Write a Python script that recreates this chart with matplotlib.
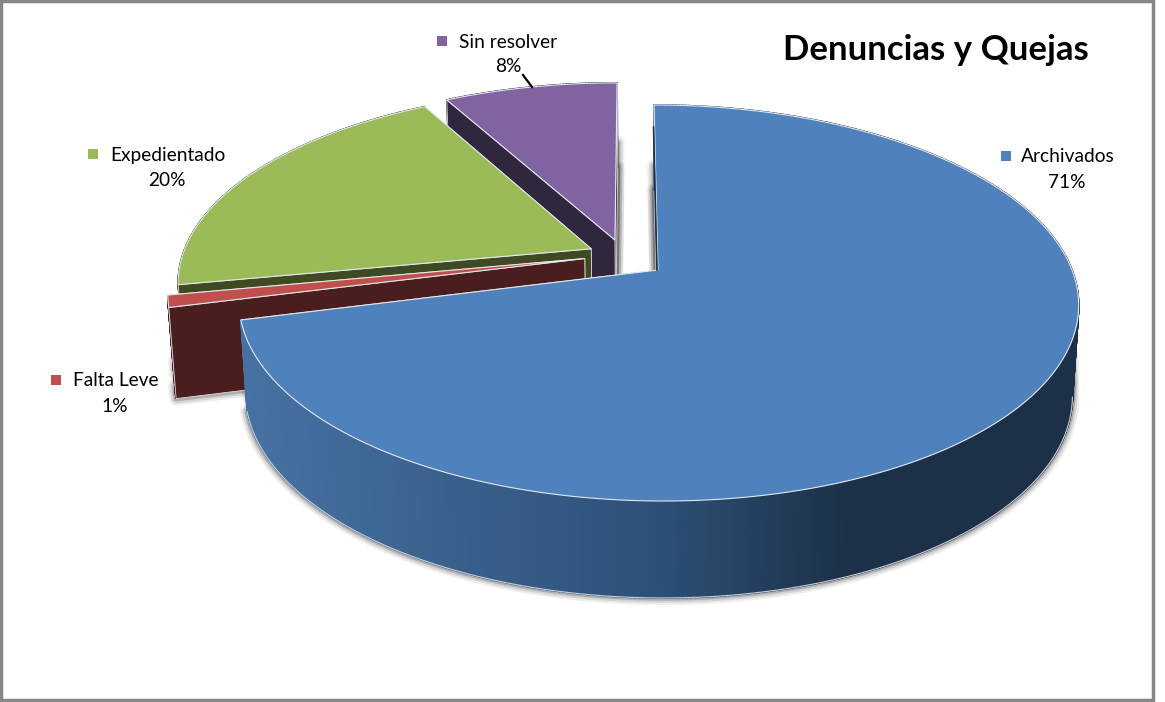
import numpy as np
import matplotlib
matplotlib.use('Agg')
import matplotlib.pyplot as plt
from matplotlib.patches import Polygon, Rectangle

labels = ['Archivados', 'Falta Leve', 'Expedientado', 'Sin resolver']
values = [71, 1, 20, 8]
pct_text = ['71%', '1%', '20%', '8%']
top_colors = ['#4f81bd', '#c0504d', '#9bbb59', '#8064a2']
side_colors = ['#1c3148', '#4a1e1e', '#3f4a22', '#30263e']

# how far each slice is pulled out of the pie (in pie radii)
explode = [(0, 0), (-0.178, 0.06), (-0.163, 0.112), (-0.105, 0.16)]
# text layout: key x, key y, text x, percent x, percent y
label_pos = [(1006, 156, 1021, 1067, 182),
             (56, 380, 73, 115, 407),
             (93, 154, 110, 167, 180),
             (442, 41, 459, 508, 67)]

# camera
cx, cy = 658, 270
A, B, k = 414, 192.5, 0.1667
lean = 0.024
depth, sx, sy = 90, 0.985, 1.03


def project(u, v):
    w = 1 + k * v
    y = cy - B * v / w
    return cx + A * u / w - lean * (cy - y), y


def lower(x, y):
    return cx + sx * (x - cx), cy + depth + sy * (y - cy)


def slice_outline(a0, a1, off):
    t = np.radians(np.linspace(a0, a1, max(int(a1 - a0) * 2, 8)))
    u = np.sin(t) + off[0]
    v = np.cos(t) + off[1]
    rx, ry = project(u, v)
    ax0, ay0 = project(off[0], off[1])
    return ax0, ay0, rx, ry


def side_shade(x):
    # blue wall goes darker to the right
    stops = [240, 660, 850]
    r = np.interp(x, stops, [0x46, 0x2d, 0x1c])
    g = np.interp(x, stops, [0x72, 0x50, 0x31])
    b = np.interp(x, stops, [0xa3, 0x78, 0x48])
    return (r / 255, g / 255, b / 255)


fig = plt.figure(figsize=(11.65, 7.02), dpi=100, facecolor='white')
ax = fig.add_axes([0, 0, 1, 1])
ax.set_xlim(0, 1165)
ax.set_ylim(702, 0)
ax.axis('off')
plt.rcParams['font.family'] = ['Lato', 'DejaVu Sans']

ax.add_patch(Rectangle((1, 1), 1152, 699, fc='white', ec='#868686', lw=2.5, zorder=0))

angles = np.cumsum([0] + values) / sum(values) * 360

# soft shadows first
for i in range(len(values)):
    ax0, ay0, rx, ry = slice_outline(angles[i], angles[i + 1], explode[i])
    bx, by = lower(np.r_[ax0, rx], np.r_[ay0, ry])
    for lift in [0, 24]:
        for lw, al in [(10, 0.07), (7, 0.10), (4, 0.18)]:
            ax.add_patch(Polygon(np.c_[bx, by - lift], closed=True, fc='none', ec='black',
                                 lw=lw, alpha=al, joinstyle='round', zorder=1))

# back slices first, blue one last
z = 2
for i in [3, 2, 1, 0]:
    ax0, ay0, rx, ry = slice_outline(angles[i], angles[i + 1], explode[i])
    bax, bay = lower(ax0, ay0)
    brx, bry = lower(rx, ry)

    # on the blue slice the outer wall is in front of the cut walls, on the others behind
    wall_z = z + 3 if i == 0 else z
    cut_z = z if i == 0 else z + 1

    # outer wall
    for j in range(len(rx) - 1):
        col = side_colors[i]
        if i == 0:
            col = side_shade(rx[j])
        ax.add_patch(Polygon([(rx[j], ry[j]), (rx[j + 1], ry[j + 1]), (brx[j + 1], bry[j + 1]), (brx[j], bry[j])],
                             closed=True, fc=col, ec=col, lw=1.2, zorder=wall_z))
    if i == 0:
        front = np.arange(len(brx)) >= np.argmax(brx)
        ax.plot(brx[front], bry[front], color='#c8ccd2', lw=0.8, zorder=wall_z + 1)

    # walls of the cut sides
    for ex, ey, bex, bey in [(rx[-1], ry[-1], brx[-1], bry[-1]), (rx[0], ry[0], brx[0], bry[0])]:
        col = side_colors[i] if i > 0 else side_shade(ex)
        ax.add_patch(Polygon([(ax0, ay0), (ex, ey), (bex, bey), (bax, bay)], closed=True,
                             fc=col, ec='#d9d9d9', lw=0.6, zorder=cut_z))
        cut_z += 1
    z += 6

    # top face
    ax.add_patch(Polygon(np.c_[np.r_[ax0, rx], np.r_[ay0, ry]], closed=True, fc=top_colors[i],
                         ec='#e4e8ee', lw=0.8, joinstyle='miter', zorder=z))
    z += 1

    if i == 0:
        # thin dark sliver of the wall next to the first edge
        ax.plot([rx[0] - 0.5, ax0 - 1], [ry[0] + 22, ay0], color='#1c3148', lw=1.2, zorder=z)
        z += 1

    # label
    kx, ky, tx, ppx, ppy = label_pos[i]
    ax.add_patch(Rectangle((kx - 5, ky - 5), 10, 10, fc=top_colors[i], ec='none', zorder=z))
    ax.text(tx, ky + 1, labels[i], fontsize=13.8, color='black', ha='left', va='center', zorder=z)
    ax.text(ppx, ppy, pct_text[i], fontsize=13.8, color='black', ha='center', va='center', zorder=z)

# leader line of the purple slice
ax.plot([523, 532], [75, 87], color='black', lw=1.6, zorder=z + 1)

ax.text(783, 50, 'Denuncias y Quejas', fontsize=25, fontweight='bold', color='black',
        ha='left', va='center', zorder=z + 1)

fig.savefig('out.png', dpi=100, facecolor='white')
